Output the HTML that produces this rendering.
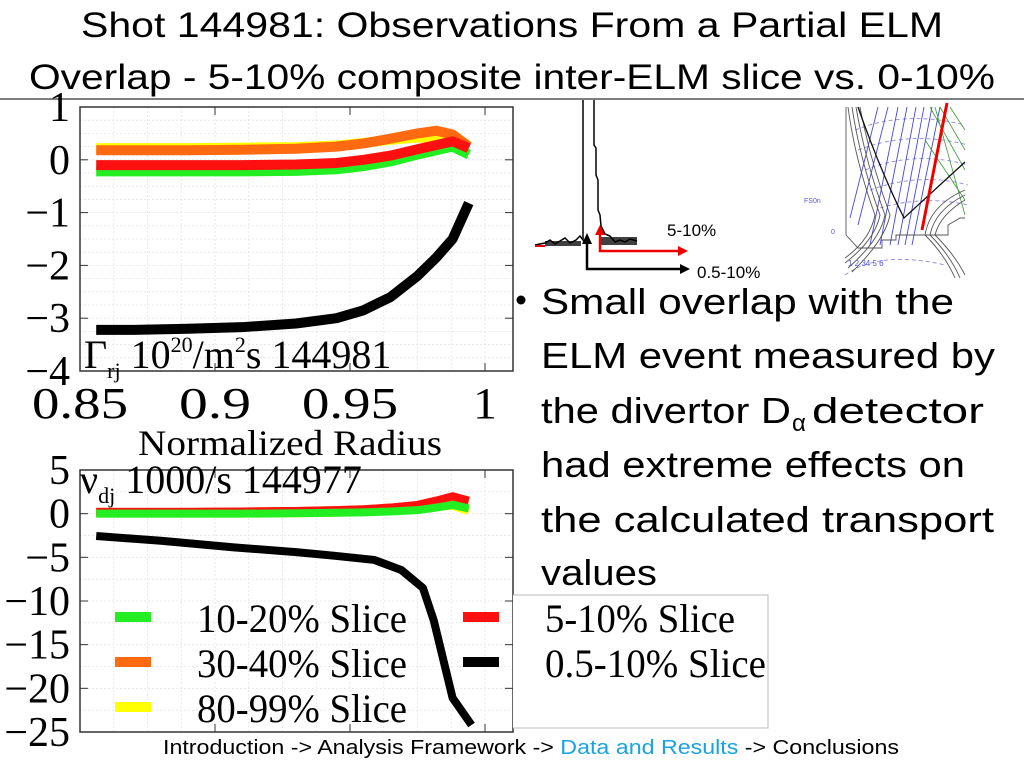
<!DOCTYPE html>
<html><head><meta charset="utf-8"><style>
html,body{margin:0;padding:0;background:#fff;}
svg{display:block;}
.ser{font-family:"Liberation Serif",serif;}
.san{font-family:"Liberation Sans",sans-serif;}
</style></head><body>
<svg id="slide" width="1024" height="768" viewBox="0 0 1024 768" xmlns="http://www.w3.org/2000/svg">
  <g class="san" font-size="35" fill="#000">
    <text x="512" y="37" text-anchor="middle" textLength="862" lengthAdjust="spacingAndGlyphs">Shot 144981:  Observations From a Partial ELM</text>
    <text x="512" y="89" text-anchor="middle" textLength="966" lengthAdjust="spacingAndGlyphs">Overlap - 5-10% composite inter-ELM slice vs. 0-10%</text>
  </g>
  <line x1="0" y1="99" x2="1024" y2="99" stroke="#555" stroke-width="1.5"/>

  <g id="topChart"></g>
  <g id="botChart"></g>

  <!-- D-alpha inset -->
  <g>
    <polyline points="535,245 545,243 550,240 555,244 560,241 565,238 570,243 576,240 580,236 583,240 583,100" fill="none" stroke="#000" stroke-width="1.5"/>
    <polyline points="594,100 594,145 596,148 596,175 598,180 598,210 600,215 601,226 605,234 610,236 615,242 620,240 625,242 630,239 637,241" fill="none" stroke="#000" stroke-width="1.5"/>
    <rect x="601" y="237" width="36" height="8" fill="#000" opacity="0.75"/>
    <rect x="545" y="241" width="36" height="5" fill="#000" opacity="0.75"/>
    <line x1="535" y1="246" x2="545" y2="246" stroke="#e00" stroke-width="2"/>
    <polyline points="587,240 587,269 683,269" fill="none" stroke="#000" stroke-width="2.5"/>
    <polygon points="582,244 587,233 592,244" fill="#000"/>
    <polygon points="680,264 690,269 680,274" fill="#000"/>
    <polyline points="600,232 600,251 680,251" fill="none" stroke="#e00" stroke-width="2.5"/>
    <polygon points="595,235 600,225 605,235" fill="#e00"/>
    <polygon points="678,246 688,251 678,256" fill="#e00"/>
    <text x="667" y="236" class="san" font-size="17">5-10%</text>
    <text x="697" y="278" class="san" font-size="17">0.5-10%</text>
  </g>

  <!-- divertor inset -->
  <g fill="none">
    <g stroke="#8a8ae0" stroke-width="0.9" stroke-dasharray="4,3">
      <path d="M855,130 Q905,110 965,125"/><path d="M858,150 Q910,130 968,145"/><path d="M865,170 Q915,150 968,165"/><path d="M870,190 Q920,172 968,185"/><path d="M880,208 Q925,195 968,205"/>
      <path d="M845,275 Q880,250 945,265"/>
    </g>
    <g stroke="#4848d8" stroke-width="0.9">
      <path d="M878,107 L850,218"/><path d="M888,107 L858,225"/><path d="M898,107 L870,245"/><path d="M907,107 L880,245"/><path d="M916,107 L890,245"/><path d="M924,107 L898,245"/><path d="M932,107 L905,245"/><path d="M940,107 L912,245"/>
    </g>
    <g stroke="#3a9a3a" stroke-width="0.8">
      <path d="M930,107 L965,170"/><path d="M940,107 L965,150"/><path d="M950,107 L965,130"/><path d="M925,140 L965,200"/><path d="M935,107 L965,215"/>
    </g>
    <g stroke="#555" stroke-width="0.9">
      <path d="M848,107 Q855,160 875,215 Q870,240 845,258"/><path d="M852,107 Q860,160 880,215 Q875,240 845,263"/><path d="M856,107 Q865,160 885,215 Q880,240 848,268"/><path d="M860,107 Q870,160 890,215 Q885,240 852,272"/>
      <path d="M965,190 Q930,205 925,235 Q945,255 955,278"/><path d="M965,195 Q935,210 930,235 Q950,255 960,278"/><path d="M965,200 Q940,215 935,235 Q955,255 965,275"/>
      <path d="M846,107 L846,235 L858,248 L882,248 L882,240 L896,240 L896,235 L948,235 L948,225 L960,218 L965,218"/>
    </g>
    <path d="M858,107 Q880,170 904,218 L965,162" stroke="#111" stroke-width="1.3"/>
    <line x1="947" y1="103" x2="922" y2="230" stroke="#e00" stroke-width="3"/>
    <text x="804" y="203" fill="#5555dd" font-size="7" class="san">FS0n</text>
    <text x="831" y="234" fill="#5555dd" font-size="7" class="san">0</text>
    <text x="848" y="266" fill="#5555dd" font-size="8" class="san">1  2 34  5 6</text>
  </g>

  <!-- bullet text -->
  <g class="san" font-size="36" fill="#000">
    <circle cx="521" cy="300" r="4.5" fill="#000"/>
    <text x="541" y="314" textLength="413" lengthAdjust="spacingAndGlyphs">Small overlap with the</text>
    <text x="541" y="368" textLength="454" lengthAdjust="spacingAndGlyphs">ELM event  measured by</text>
    <text x="541" y="423" textLength="250" lengthAdjust="spacingAndGlyphs">the divertor D</text>
    <text x="792" y="431" font-size="24">α</text>
    <text x="812" y="423" textLength="172" lengthAdjust="spacingAndGlyphs">detector</text>
    <text x="541" y="477" textLength="424" lengthAdjust="spacingAndGlyphs">had extreme effects on</text>
    <text x="541" y="532" textLength="453" lengthAdjust="spacingAndGlyphs">the calculated  transport</text>
    <text x="541" y="585" textLength="116" lengthAdjust="spacingAndGlyphs">values</text>
  </g>

  <text x="531" y="754" text-anchor="middle" class="san" font-size="20" textLength="736" lengthAdjust="spacingAndGlyphs">Introduction -&gt; Analysis Framework -&gt; <tspan fill="#1aa3e0">Data  and Results</tspan> -&gt; Conclusions</text>
</svg>
<script>
// ---- shared x data ----
const radius = [0.856,0.87,0.89,0.91,0.93,0.945,0.955,0.965,0.975,0.982,0.988,0.994];
// top chart (Gamma_rj)
const topGreen  = [-0.22,-0.22,-0.22,-0.22,-0.21,-0.18,-0.12,-0.03,0.10,0.18,0.25,0.10];
const topRed    = [-0.10,-0.10,-0.10,-0.10,-0.09,-0.06,0.00,0.08,0.20,0.28,0.35,0.22];
const topOrange = [0.18,0.18,0.18,0.19,0.21,0.25,0.31,0.40,0.50,0.55,0.48,0.25];
const topYellow = [0.22,0.22,0.22,0.23,0.24,0.27,0.32,0.38,0.42,0.42,0.38,0.28];
const topBlack  = [-3.22,-3.22,-3.20,-3.17,-3.10,-3.00,-2.85,-2.60,-2.20,-1.85,-1.50,-0.82];
// bottom chart (nu_dj)
const botYellow = [0.0,0.0,0.0,0.0,0.05,0.1,0.2,0.3,0.5,0.8,0.9,0.3];
const botOrange = [0.2,0.2,0.2,0.25,0.3,0.4,0.5,0.7,1.0,1.5,1.8,1.5];
const botRed    = [0.2,0.2,0.2,0.25,0.3,0.4,0.5,0.7,1.0,1.5,2.0,1.5];
const botGreen  = [0.0,0.0,0.0,0.0,0.05,0.1,0.15,0.25,0.4,0.7,1.0,0.6];
const botBlackX = [0.856,0.88,0.907,0.93,0.944,0.959,0.969,0.977,0.981,0.988,0.995];
const botBlack  = [-2.56,-3.1,-3.86,-4.4,-4.81,-5.3,-6.45,-8.5,-12.2,-21.1,-24.2];
const xTicks = [0.85,0.9,0.95,1];
const xTickLabels = ["0.85","0.9","0.95","1"];
const topYTicks = [1,0,-1,-2,-3,-4];
const botYTicks = [5,0,-5,-10,-15,-20,-25];
const legendLabels = ["10-20% Slice","30-40% Slice","80-99% Slice","5-10% Slice","0.5-10% Slice"];

const NS="http://www.w3.org/2000/svg";
function mk(tag,attrs,parent){const e=document.createElementNS(NS,tag);for(const k in attrs)e.setAttribute(k,attrs[k]);parent.appendChild(e);return e;}

function chart(g,y0,y1,ymin,ymax,yticks,minorStep){
  const L=80,R=513;
  const xs=v=>L+(v-0.85)*2700;
  const ys=v=>y1-(v-ymin)/(ymax-ymin)*(y1-y0);
  for(let v=0.85;v<=1.0101;v+=0.0125){mk('line',{x1:xs(v),x2:xs(v),y1:y0,y2:y1,stroke:'#e4e4e4','stroke-width':0.8,'stroke-dasharray':'2,2'},g);}
  for(let v=ymin;v<=ymax+1e-9;v+=minorStep){mk('line',{x1:L,x2:R,y1:ys(v),y2:ys(v),stroke:'#e4e4e4','stroke-width':0.8,'stroke-dasharray':'2,2'},g);}
  const frame=mk('rect',{x:L,y:y0,width:R-L,height:y1-y0,fill:'none',stroke:'#333','stroke-width':1.5},g);
  
  
  yticks.forEach(t=>{
    mk('line',{x1:L,x2:L+8,y1:ys(t),y2:ys(t),stroke:'#333','stroke-width':1},g);
    mk('line',{x1:R,x2:R-8,y1:ys(t),y2:ys(t),stroke:'#333','stroke-width':1},g);
    const s=t<0?'\u2212'+Math.abs(t):String(t);
    const tx=mk('text',{x:70,y:ys(t)+14,'text-anchor':'end','font-size':42,'class':'ser'},g);
    tx.textContent=s;
    
    
  });
  xTicks.forEach(t=>{
    mk('line',{x1:xs(t),x2:xs(t),y1:y1,y2:y1-8,stroke:'#333','stroke-width':1},g);
    mk('line',{x1:xs(t),x2:xs(t),y1:y0,y2:y0+8,stroke:'#333','stroke-width':1},g);
  });
  return {xs,ys};
}
function series(g,ax,xv,yv,color,w,name){
  const p=mk('polyline',{points:xv.map((x,i)=>ax.xs(x)+','+ax.ys(yv[i])).join(' '),fill:'none',stroke:color,'stroke-width':w,'stroke-linejoin':'round'},g);
  
  
}

// top chart
const tg=document.getElementById('topChart');
const ta=chart(tg,107,371,-4,1,topYTicks,0.25);
series(tg,ta,radius,topYellow,'#ffff00',10,'series-80-99');
series(tg,ta,radius,topOrange,'#ff6a10',10,'series-30-40');
series(tg,ta,radius,topGreen,'#22ee22',10,'series-10-20');
series(tg,ta,radius,topRed,'#ff1010',10,'series-5-10');
series(tg,ta,radius,topBlack,'#000',10,'series-0-5-10');
xTicks.forEach((t,i)=>{
  const lab=xTickLabels[i];
  const tx=mk('text',{x:ta.xs(t),y:418,'text-anchor':'middle','font-size':44,'class':'ser',textLength:lab.length*24,lengthAdjust:'spacingAndGlyphs'},tg);
  tx.textContent=lab;
  
  
});
const xl=mk('text',{x:290,y:455,'text-anchor':'middle','font-size':36,'class':'ser',textLength:304,lengthAdjust:'spacingAndGlyphs'},tg);
xl.textContent='Normalized Radius';


const tl=mk('text',{x:84,y:368,'font-size':40,'class':'ser'},tg);
tl.innerHTML='Γ<tspan font-size="22" dy="10">rj</tspan><tspan dy="-10"> 10</tspan><tspan font-size="22" dy="-16">20</tspan><tspan dy="16">/m</tspan><tspan font-size="22" dy="-16">2</tspan><tspan dy="16">s 144981</tspan>';



// bottom chart
const bg=document.getElementById('botChart');
const ba=chart(bg,470,732,-25,5,botYTicks,2.5);
series(bg,ba,radius,botYellow,'#ffff00',8,'series-80-99');
series(bg,ba,radius,botOrange,'#ff6a10',8,'series-30-40');
series(bg,ba,radius,botRed,'#ff1010',8,'series-5-10');
series(bg,ba,radius,botGreen,'#22ee22',8,'series-10-20');
series(bg,ba,botBlackX,botBlack,'#000',8,'series-0-5-10');
const bl=mk('text',{x:80,y:493,'font-size':40,'class':'ser'},bg);
bl.innerHTML='ν<tspan font-size="22" dy="10">dj</tspan><tspan dy="-10"> 1000/s 144977</tspan>';



// legend
const lg=mk('g',{},bg);


mk('polyline',{points:'513,595 768,595 768,728 513,728',fill:'#fff',stroke:'#bbb','stroke-width':1},lg);
const legColors=['#22ee22','#ff6a10','#ffff00','#ff1010','#000'];
const legPos=[[115,197,617],[115,197,662],[115,197,707],[463,545,617],[463,545,662]];
const legLen=[210,210,210,190,221];
legendLabels.forEach((lab,i)=>{
  const [sx,tx0,y]=legPos[i];
  const sw=mk('rect',{x:sx,y:y-5,width:36,height:10,fill:legColors[i]},lg);
  
  
  const t=mk('text',{x:tx0,y:y+15,'font-size':40,'class':'ser',textLength:legLen[i],lengthAdjust:'spacingAndGlyphs'},lg);
  t.textContent=lab;
  
  
});
</script>
</body></html>
